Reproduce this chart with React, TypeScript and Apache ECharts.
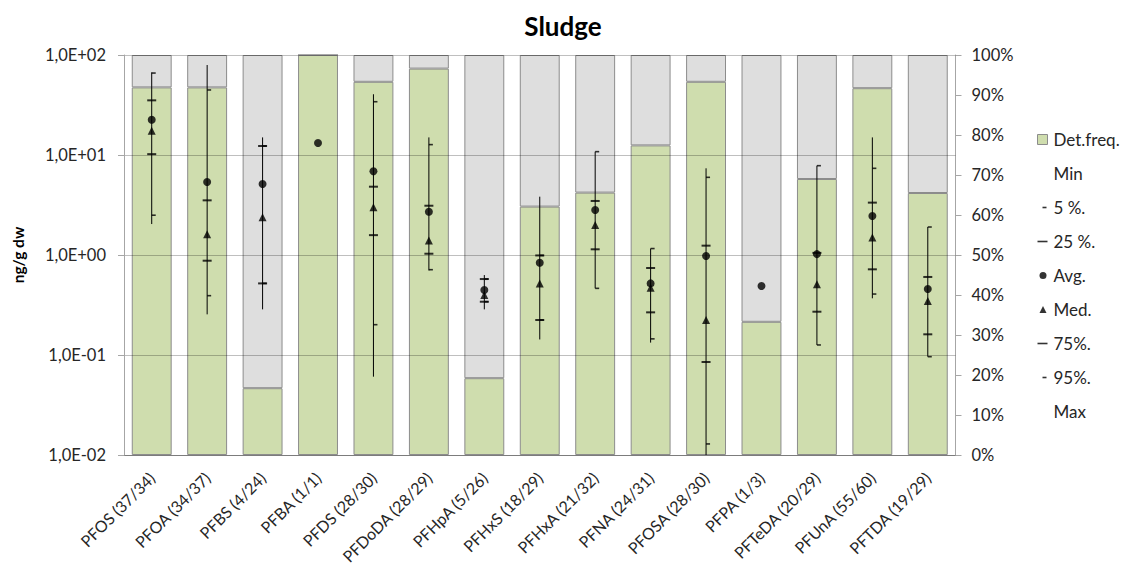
import React, { useEffect, useRef } from "react";
import * as echarts from "echarts";

const categories = [
  "PFOS (37/34)", "PFOA (34/37)", "PFBS (4/24)", "PFBA (1/1)", "PFDS (28/30)",
  "PFDoDA (28/29)", "PFHpA (5/26)", "PFHxS (18/29)", "PFHxA (21/32)", "PFNA (24/31)",
  "PFOSA (28/30)", "PFPA (1/3)", "PFTeDA (20/29)", "PFUnA (55/60)", "PFTDA (19/29)",
];
// detection frequency, %
const detFreq = [91.9, 91.9, 16.7, 100, 93.3, 96.6, 19.2, 62.1, 65.6, 77.4, 93.3, 33.3, 69.0, 91.7, 65.5];
// concentration statistics, ng/g dw
const minVals = [2.04, 0.255, 0.286, null, 0.0607, 0.70, 0.286, 0.143, 0.464, 0.133, 0.01, null, 0.126, 0.369, 0.0962];
const p5Vals = [2.5, 0.392, 0.52, null, 0.201, 0.713, 0.341, 0.224, 0.464, 0.145, 0.0129, null, 0.126, 0.407, 0.0962];
const p25Vals = [10.2, 0.877, 0.52, null, 1.58, 1.03, 0.341, 0.224, 1.14, 0.267, 0.0851, null, 0.271, 0.719, 0.161];
const avgVals = [22.5, 5.37, 5.13, 13.2, 6.87, 2.71, 0.447, 0.838, 2.82, 0.52, 0.977, 0.49, 1.02, 2.45, 0.457];
const medVals = [17.5, 1.61, 2.38, null, 3.0, 1.40, 0.398, 0.52, 2.0, 0.471, 0.224, null, 0.509, 1.50, 0.347];
const p75Vals = [35.2, 3.52, 12.3, null, 4.82, 3.11, 0.575, 0.99, 3.47, 0.741, 1.24, null, 1.05, 3.34, 0.603];
const p95Vals = [66, 44.7, 12.3, null, 34.1, 12.7, 0.575, 0.99, 10.8, 1.16, 5.98, null, 7.82, 7.36, 1.905];
const maxVals = [67.1, 79.4, 15.0, null, 40.5, 15.0, 0.63, 3.83, 10.8, 1.16, 7.36, null, 7.82, 15.0, 1.905];

const FONT = "Lato";
const GREEN = "#cfddae";
const GREY = "#dedede";
const BORDER = "#8c8c8c";

const pts = (arr: (number | null)[]) =>
  arr.map((v, i) => (v == null ? [i, "-"] : [i, v]));

const BOX = "M0,0 M12,14 ";
const icons = {
  square: "path://" + BOX + "M1,2 L11,2 L11,12 L1,12 Z",
  shortDash: "path://" + BOX + "M6,6.2 L10,6.2 L10,7.8 L6,7.8 Z",
  longDash: "path://" + BOX + "M1,6.2 L11,6.2 L11,7.8 L1,7.8 Z",
  dot: "path://" + BOX + "M3,7 A3.5,3.5 0 1,0 10,7 A3.5,3.5 0 1,0 3,7 Z",
  tri: "path://" + BOX + "M3,10.5 L6.5,3.5 L10,10.5 Z",
};

export default function App() {
  const ref = useRef<HTMLDivElement>(null);
  useEffect(() => {
    const chart = echarts.init(ref.current!, null, { renderer: "svg" });
    const whiskers = categories
      .map((_, i) => (minVals[i] != null && maxVals[i] != null ? [i, minVals[i], maxVals[i]] : null))
      .filter((d) => d != null);
    const tickSeries = (name: string, data: (number | null)[], symbol: string, size: any, offset: any) => ({
      name,
      type: "scatter",
      yAxisIndex: 0,
      z: 6,
      symbol,
      symbolSize: size,
      symbolOffset: offset,
      itemStyle: { color: "#000" },
      data: pts(data),
      silent: true,
    });
    const option: any = {
      animation: false,
      textStyle: { fontFamily: FONT },
      title: {
        text: "Sludge",
        left: 558,
        top: 8,
        textAlign: "center",
        textStyle: { fontFamily: FONT, fontSize: 26, fontWeight: "bold", color: "#000" },
      },
      legend: {
        orient: "vertical",
        left: 1031,
        top: 126,
        itemWidth: 12,
        itemHeight: 14,
        itemGap: 17,
        selectedMode: false,
        textStyle: { fontFamily: FONT, fontSize: 17, color: "#262626" },
        data: [
          { name: "Det.freq.", icon: icons.square, itemStyle: { color: GREEN, borderColor: BORDER, borderWidth: 1 } },
          { name: "Min", icon: "rect", itemStyle: { color: "rgba(0,0,0,0)", borderWidth: 0 } },
          { name: "5 %.", icon: icons.shortDash },
          { name: "25 %.", icon: icons.longDash },
          { name: "Avg.", icon: icons.dot },
          { name: "Med.", icon: icons.tri },
          { name: "75%.", icon: icons.longDash },
          { name: "95%.", icon: icons.shortDash },
          { name: "Max", icon: "rect", itemStyle: { color: "rgba(0,0,0,0)", borderWidth: 0 } },
        ],
      },
      grid: { left: 124, right: 171.5, top: 55, bottom: 116, containLabel: false, outerBoundsMode: "none" },
      xAxis: {
        type: "category",
        data: categories,
        axisLine: { show: true, lineStyle: { color: "#a6a6a6" } },
        axisTick: { show: false },
        axisLabel: {
          rotate: 45,
          margin: 20,
          fontFamily: FONT,
          fontSize: 16,
          color: "#262626",
          interval: 0,
        },
      },
      yAxis: [
        {
          type: "log",
          logBase: 10,
          min: 0.01,
          max: 100,
          z: 3,
          name: "ng/g dw",
          nameLocation: "middle",
          nameGap: 98,
          nameTextStyle: { fontFamily: FONT, fontSize: 15.5, fontWeight: "bold", color: "#000" },
          axisLine: { show: true, lineStyle: { color: "#a6a6a6" } },
          axisTick: { show: true, length: 6, lineStyle: { color: "#a6a6a6" } },
          splitLine: { show: true, lineStyle: { color: "rgba(0,0,0,0.25)", width: 1 } },
          axisLabel: {
            fontFamily: FONT,
            fontSize: 16.5,
            color: "#262626",
            margin: 18,
            formatter: (v: number) => {
              const e = Math.round(Math.log10(v));
              return "1,0E" + (e < 0 ? "-" : "+") + String(Math.abs(e)).padStart(2, "0");
            },
          },
        },
        {
          type: "value",
          min: 0,
          max: 100,
          interval: 10,
          position: "right",
          axisLine: { show: true, lineStyle: { color: "#a6a6a6" } },
          axisTick: { show: true, length: 6, lineStyle: { color: "#a6a6a6" } },
          splitLine: { show: false },
          axisLabel: { fontFamily: FONT, fontSize: 16.5, color: "#262626", margin: 16, formatter: "{value}%" },
        },
      ],
      series: [
        {
          name: "Det.freq.",
          type: "bar",
          yAxisIndex: 1,
          stack: "freq",
          barCategoryGap: "28%",
          itemStyle: { color: GREEN, borderColor: BORDER, borderWidth: 1 },
          data: detFreq,
          silent: true,
        },
        {
          name: "Not detected",
          type: "bar",
          yAxisIndex: 1,
          stack: "freq",
          itemStyle: { color: GREY, borderColor: BORDER, borderWidth: 1 },
          data: detFreq.map((d) => +(100 - d).toFixed(1)),
          silent: true,
        },
        {
          name: "Range",
          type: "custom",
          yAxisIndex: 0,
          z: 5,
          encode: { x: 0, y: [1, 2] },
          data: whiskers,
          silent: true,
          renderItem: (params: any, api: any) => {
            const lo = api.coord([api.value(0), api.value(1)]);
            const hi = api.coord([api.value(0), api.value(2)]);
            return {
              type: "line",
              shape: { x1: lo[0], y1: lo[1], x2: hi[0], y2: hi[1] },
              style: { stroke: "#000", lineWidth: 1 },
            };
          },
        },
        tickSeries("Min", minVals, "none", 1, [0, 0]),
        tickSeries("5 %.", p5Vals, "rect", [4, 1.6], [2, 0]),
        tickSeries("25 %.", p25Vals, "rect", [9, 2], [0, 0]),
        tickSeries("Avg.", avgVals, "circle", 8, [0, 0]),
        tickSeries("Med.", medVals, "triangle", 8, [0, 0]),
        tickSeries("75%.", p75Vals, "rect", [9, 2], [0, 0]),
        tickSeries("95%.", p95Vals, "rect", [4, 1.6], [2, 0]),
        tickSeries("Max", maxVals, "none", 1, [0, 0]),
      ],
    };
    chart.setOption(option);
    return () => chart.dispose();
  }, []);
  return (
    <div
      ref={ref}
      style={{ position: "fixed", left: 0, top: 0, width: 1127, height: 571, background: "#fff" }}
    />
  );
}
